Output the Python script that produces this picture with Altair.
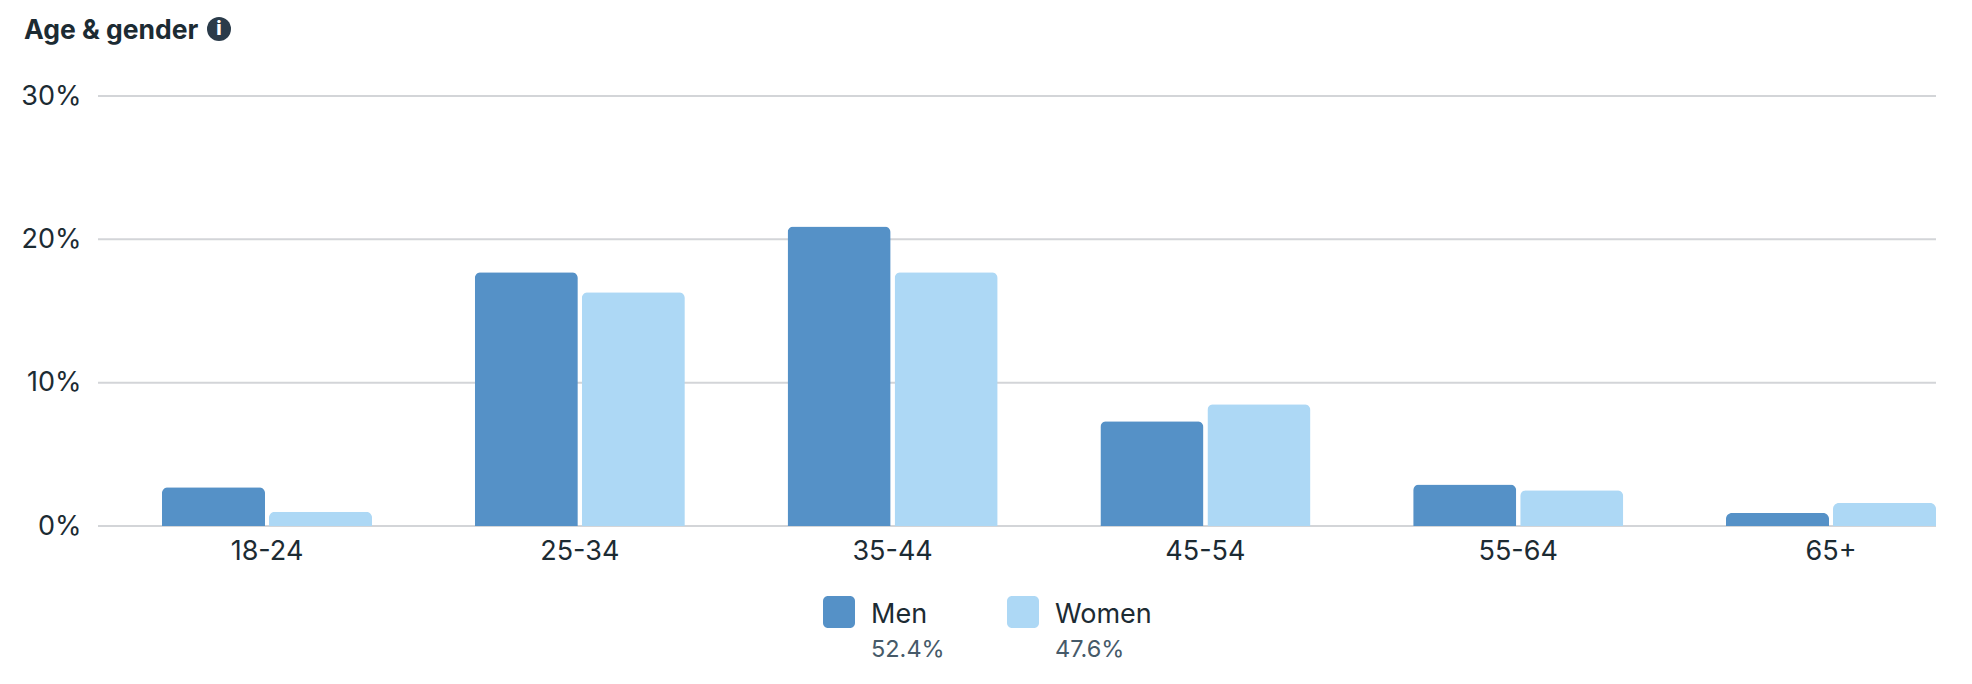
import altair as alt
import pandas as pd

ages = ["18-24", "25-34", "35-44", "45-54", "55-64", "65+"]
men = [2.7, 17.7, 20.9, 7.3, 2.9, 0.9]
women = [1.0, 16.3, 17.7, 8.5, 2.5, 1.6]
genders = ["Men", "Women"]
shares = ["52.4%", "47.6%"]
colors = ["#5591C7", "#ADD8F5"]
ticks = [0, 10, 20, 30]
TEXT = "#1C2B33"
SUB = "#465A69"
FONT = "Inter"

rows = [{"age": a, "gender": "Men", "value": v} for a, v in zip(ages, men)] + \
       [{"age": a, "gender": "Women", "value": v} for a, v in zip(ages, women)]
df = pd.DataFrame(rows)

yscale = alt.Scale(domain=[0, 30])
yaxis = alt.Axis(values=ticks, labelExpr="datum.value + '%'", domain=False, ticks=False,
                 grid=False, labelFont=FONT, labelFontSize=27, labelColor=TEXT, labelPadding=17)

grid = alt.Chart(pd.DataFrame({"value": ticks})).mark_rule(color="#D3D5D8", strokeWidth=2).encode(
    y=alt.Y("value:Q", title=None, scale=yscale, axis=yaxis),
    x=alt.value(0), x2=alt.value(1838),
)

bars = alt.Chart(df).mark_bar(cornerRadiusTopLeft=6, cornerRadiusTopRight=6).encode(
    x=alt.X("age:N", sort=ages, title=None,
            scale=alt.Scale(range=[12.6, 1889.4], paddingInner=0, paddingOuter=0),
            axis=alt.Axis(labelAngle=0, domain=False, ticks=False, grid=False, labelFont=FONT,
                          labelFontSize=27, labelColor=TEXT, labelPadding=12, labelFontWeight=400)),
    xOffset=alt.XOffset("gender:N", sort=genders,
                        scale=alt.Scale(paddingInner=0.037, paddingOuter=0.48)),
    y=alt.Y("value:Q", title=None, scale=yscale, axis=yaxis),
    color=alt.Color("gender:N", sort=genders, legend=None,
                    scale=alt.Scale(domain=genders, range=colors)),
)

one = pd.DataFrame({"k": [0]})
title = alt.Chart(one).mark_text(text="Age & gender", font=FONT, fontSize=26.5, fontWeight=700, color=TEXT,
                                 align="left", baseline="alphabetic").encode(x=alt.value(-74), y=alt.value(-57))
icon = alt.Chart(one).mark_point(filled=True, size=576, shape="circle", color="#2A3B4A", opacity=1).encode(
    x=alt.value(121), y=alt.value(-67))
icon_i = alt.Chart(one).mark_text(text="i", font=FONT, fontSize=19, fontWeight=800, color="white",
                                  align="center", baseline="middle").encode(x=alt.value(121), y=alt.value(-67))

layers = [grid, bars, title, icon, icon_i]
for g, s, c, x in zip(genders, shares, colors, [725, 909]):
    layers.append(alt.Chart(one).mark_rect(color=c, cornerRadius=5).encode(
        x=alt.value(x), x2=alt.value(x + 32), y=alt.value(500), y2=alt.value(532)))
    layers.append(alt.Chart(one).mark_text(text=g, font=FONT, fontSize=27, color=TEXT, align="left",
                                           baseline="alphabetic").encode(x=alt.value(x + 48), y=alt.value(527)))
    layers.append(alt.Chart(one).mark_text(text=s, font=FONT, fontSize=23.5, color=SUB, align="left",
                                           baseline="alphabetic").encode(x=alt.value(x + 48), y=alt.value(561)))

chart = alt.layer(*layers).resolve_scale(y="shared").properties(
    width=1838, height=430,
    autosize=alt.AutoSizeParams(type="none"),
    padding={"left": 90, "top": 88, "right": 20, "bottom": 140},
).configure_view(stroke=None)

chart.save("out.html", embed_options={"renderer": "svg", "actions": False})
